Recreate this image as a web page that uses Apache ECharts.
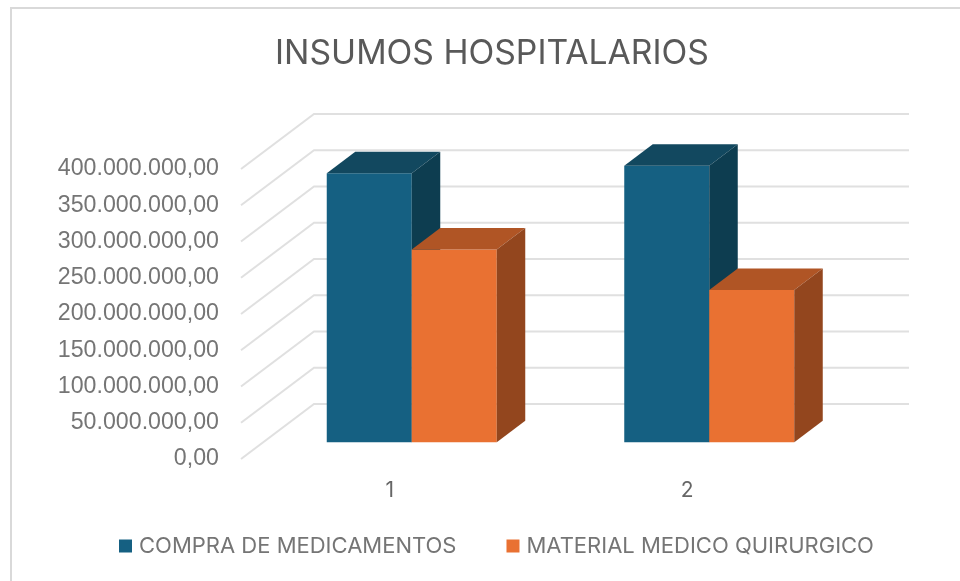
<!DOCTYPE html>
<html>
<head>
<meta charset="utf-8">
<style>
  html, body { margin: 0; padding: 0; background: #fff; }
  #chart { width: 960px; height: 581px; }
</style>
</head>
<body>
<div id="chart"></div>
<script src="https://cdn.jsdelivr.net/npm/echarts@6/dist/echarts.min.js"></script>
<script>
var categories = ['1', '2'];
var compraMedicamentos = [371000000, 381500000];
var materialMedico = [266000000, 210000000];
var yTicks = [0, 50000000, 100000000, 150000000, 200000000, 250000000, 300000000, 350000000, 400000000];

// fake 3d: the wall sits this far behind the front plane of the axis
var wallDx = 73, wallDy = -55;
// the bars stand part of the way back, and have their own depth
var barDx = 22, barDy = -16.7;
var sideDx = 28.5, sideDy = -21.5;
var barWidth = 85;

function formatMoney(v) {
  var s = v.toFixed(2).replace('.', ',');
  return s.replace(/\B(?=(\d{3})+(?!\d))(?=.*,)/g, '.');
}

function gridlineItem(params, api) {
  var cs = params.coordSys;
  var y = api.coord([0, api.value(0)])[1];
  return {
    type: 'polyline',
    shape: { points: [[cs.x, y], [cs.x + wallDx, y + wallDy], [cs.x + cs.width + wallDx, y + wallDy]] },
    style: { fill: null, stroke: '#e0e0e0', lineWidth: 2 }
  };
}

function barRenderer(offset, top, side) {
  return function (params, api) {
    var base = api.coord([api.value(0), 0]);
    var head = api.coord([api.value(0), api.value(1)]);
    var x0 = base[0] + barDx + offset;
    var x1 = x0 + barWidth;
    var y0 = base[1] + barDy;
    var y1 = head[1] + barDy;
    return {
      type: 'group',
      children: [
        { type: 'rect', shape: { x: x0, y: y1, width: barWidth, height: y0 - y1 }, style: { fill: api.visual('color') } },
        { type: 'polygon', shape: { points: [[x0, y1], [x1, y1], [x1 + sideDx, y1 + sideDy], [x0 + sideDx, y1 + sideDy]] }, style: { fill: top } },
        { type: 'polygon', shape: { points: [[x1, y0], [x1, y1], [x1 + sideDx, y1 + sideDy], [x1 + sideDx, y0 + sideDy]] }, style: { fill: side } }
      ]
    };
  };
}

var myChart = echarts.init(document.getElementById('chart'));

var option = {
  animation: false,
  backgroundColor: '#fff',
  title: {
    text: 'INSUMOS HOSPITALARIOS',
    left: 487,
    textAlign: 'center',
    top: 32,
    textStyle: { color: '#595959', fontFamily: 'Inter', fontSize: 33.7, fontWeight: 'normal' }
  },
  legend: {
    data: ['COMPRA DE MEDICAMENTOS', 'MATERIAL MEDICO QUIRURGICO'],
    left: 114,
    top: 530,
    icon: 'rect',
    itemWidth: 13,
    itemHeight: 13,
    itemGap: 50,
    textStyle: { color: '#757575', fontFamily: 'Inter', fontSize: 22, padding: [0, 0, 0, 2] }
  },
  grid: { left: 241, top: 169, width: 595, height: 290 },
  xAxis: {
    type: 'category',
    data: categories,
    axisLine: { show: false },
    axisTick: { show: false },
    axisLabel: { color: '#666', fontFamily: 'Inter', fontSize: 21, margin: 21 }
  },
  yAxis: {
    type: 'value',
    min: 0,
    max: 400000000,
    interval: 50000000,
    splitLine: { show: false },
    axisLine: { show: false },
    axisTick: { show: false },
    axisLabel: {
      color: '#757575',
      fontFamily: 'Liberation Sans',
      fontSize: 23.2,
      margin: 22,
      padding: [2, 0, 0, 0],
      formatter: formatMoney
    }
  },
  graphic: [
    { type: 'line', shape: { x1: 11, y1: 8, x2: 11, y2: 581 }, style: { stroke: '#d9d9d9', lineWidth: 2 } },
    { type: 'line', shape: { x1: 10, y1: 8, x2: 960, y2: 8 }, style: { stroke: '#d9d9d9', lineWidth: 2 } }
  ],
  series: [
    {
      type: 'custom',
      name: 'grid',
      silent: true,
      renderItem: gridlineItem,
      encode: { y: 0 },
      data: yTicks.map(function (v) { return [v]; }),
      z: 1
    },
    {
      type: 'custom',
      name: 'COMPRA DE MEDICAMENTOS',
      renderItem: barRenderer(-barWidth, '#12485f', '#0d3d50'),
      itemStyle: { color: '#156082' },
      encode: { x: 0, y: 1 },
      data: compraMedicamentos.map(function (v, i) { return [i, v]; }),
      z: 2
    },
    {
      type: 'custom',
      name: 'MATERIAL MEDICO QUIRURGICO',
      renderItem: barRenderer(0, '#b05525', '#93461e'),
      itemStyle: { color: '#e97132' },
      encode: { x: 0, y: 1 },
      data: materialMedico.map(function (v, i) { return [i, v]; }),
      z: 3
    }
  ]
};

myChart.setOption(option);
</script>
</body>
</html>
